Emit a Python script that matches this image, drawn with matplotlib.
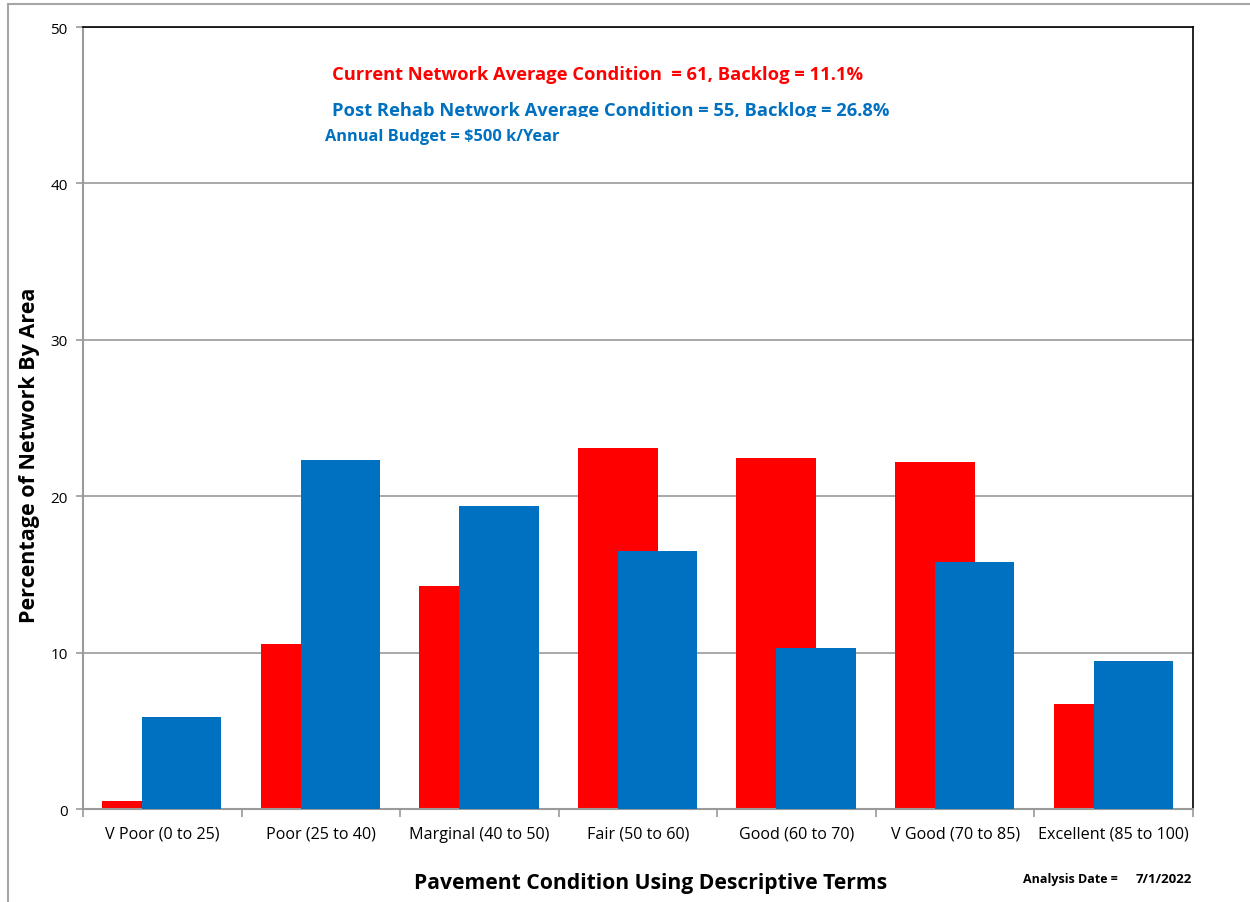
import matplotlib
matplotlib.use('Agg')
import matplotlib.pyplot as plt
import numpy as np
from matplotlib.lines import Line2D
from matplotlib.transforms import Bbox

plt.rcParams['font.family'] = ['Open Sans', 'DejaVu Sans']

categories = ['V Poor (0 to 25)', 'Poor (25 to 40)', 'Marginal (40 to 50)',
              'Fair (50 to 60)', 'Good (60 to 70)', 'V Good (70 to 85)',
              'Excellent (85 to 100)']
current = [0.5, 10.55, 14.27, 23.1, 22.48, 22.2, 6.76]
post_rehab = [5.87, 22.33, 19.39, 16.53, 10.33, 15.78, 9.49]
y_ticks = [0, 10, 20, 30, 40, 50]

RED = '#FF0000'
BLUE = '#0070C0'
GRID = '#9A9A9A'

fig = plt.figure(figsize=(12.5, 9.03), dpi=100)
ax = fig.add_axes([83 / 1250, 1 - 810.3 / 903, 1110 / 1250, (810.3 - 28) / 903])

x = np.arange(len(categories))
ax.bar(x - 0.127, current, width=0.504, color=RED, zorder=2)
ax.bar(x + 0.123, post_rehab, width=0.5, color=BLUE, zorder=3)

ax.set_xlim(-0.5, len(categories) - 0.5)
ax.set_ylim(0, 50)
ax.set_yticks(y_ticks)
ax.set_yticklabels([str(v) for v in y_ticks], fontsize=11)
ax.yaxis.grid(True, color=GRID, linewidth=1.2, zorder=1)
ax.set_axisbelow(True)

# category labels sit between the boundary ticks
ax.set_xticks(np.arange(len(categories) + 1) - 0.5)
ax.set_xticklabels([])
ax.set_xticks(x, minor=True)
ax.set_xticklabels(categories, minor=True, fontsize=11.6)
ax.tick_params(axis='x', which='minor', length=0, pad=12)
ax.tick_params(axis='x', which='major', length=6, color=GRID, width=1.2)
ax.tick_params(axis='y', length=5, color=GRID, width=1.2, pad=6)

for side in ['left', 'bottom']:
    ax.spines[side].set_color(GRID)
    ax.spines[side].set_linewidth(1.5)
for side in ['top', 'right']:
    ax.spines[side].set_color('black')
    ax.spines[side].set_linewidth(1.2)

fig.text(651 / 1250, 1 - 884 / 903, 'Pavement Condition Using Descriptive Terms',
         fontsize=15.2, fontweight='bold', ha='center', va='center')
fig.text(30 / 1250, 1 - 455 / 903, 'Percentage of Network By Area',
         fontsize=15.5, fontweight='bold', ha='center', va='center',
         rotation=90)

fig.text(332 / 1250, 1 - 75 / 903,
         'Current Network Average Condition  = 61, Backlog = 11.1%',
         color=RED, fontsize=13.2, fontweight='bold', va='center')
t2 = fig.text(332 / 1250, 1 - 111 / 903,
              'Post Rehab Network Average Condition = 55, Backlog = 26.8%',
              color=BLUE, fontsize=13.25, fontweight='bold', va='center')
fig.text(325 / 1250, 1 - 137 / 903, 'Annual Budget = $500 k/Year',
         color=BLUE, fontsize=11.8, fontweight='bold', va='center')
# the second line is cut off at the bottom in the original
t2.set_clip_box(Bbox.from_extents(0, 903 - 118, 1250, 903))
t2.set_clip_on(True)

fig.text(1023 / 1250, 1 - 880 / 903, 'Analysis Date =', fontsize=9,
         fontweight='bold', va='center')
fig.text(1192 / 1250, 1 - 880 / 903, '7/1/2022', fontsize=9.5,
         fontweight='bold', va='center', ha='right')

# outer chart frame (top and left edges visible)
fig.add_artist(Line2D([8 / 1250, 1], [1 - 5 / 903, 1 - 5 / 903],
                      transform=fig.transFigure, color='#A6A6A6', linewidth=1.5))
fig.add_artist(Line2D([8 / 1250, 8 / 1250], [0, 1 - 5 / 903],
                      transform=fig.transFigure, color='#A6A6A6', linewidth=1.5))

fig.savefig('out.png', dpi=100, facecolor='white')
